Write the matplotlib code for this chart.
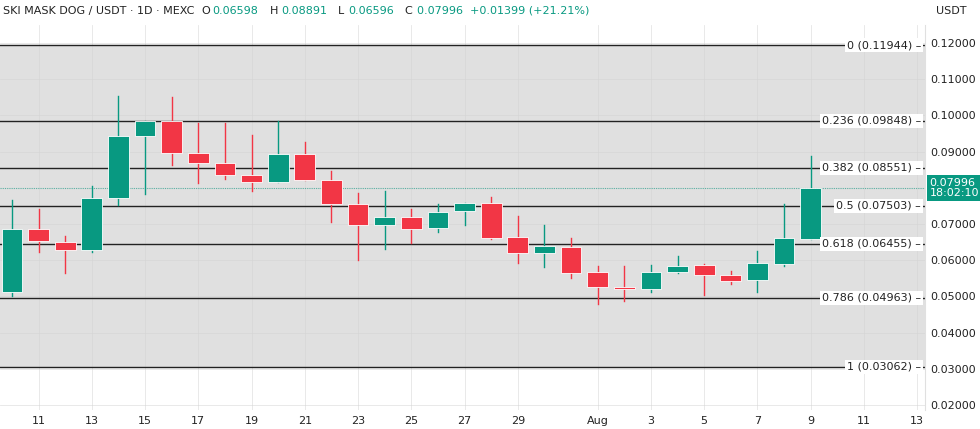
import numpy as np
import matplotlib.pyplot as plt
from matplotlib.patches import Rectangle

# daily candles Jul 10 .. Aug 9 (day index 0 = Jul 10)
opens = [0.0512, 0.0686, 0.0650, 0.0628, 0.0772, 0.0943, 0.0985, 0.0896, 0.0869, 0.0835,
         0.0816, 0.0893, 0.0822, 0.0756, 0.0697, 0.0719, 0.0689, 0.0736, 0.0758, 0.0664,
         0.0620, 0.0637, 0.0567, 0.0526, 0.0520, 0.0567, 0.0587, 0.0559, 0.0545, 0.0590, 0.06598]
highs = [0.0766, 0.0741, 0.0667, 0.0805, 0.1054, 0.0985, 0.1051, 0.0979, 0.0979, 0.0946,
         0.0985, 0.0927, 0.0846, 0.0786, 0.0791, 0.0741, 0.0756, 0.0758, 0.0775, 0.0722,
         0.0697, 0.0661, 0.0584, 0.0584, 0.0587, 0.0612, 0.0590, 0.0570, 0.0625, 0.0756, 0.08891]
lows = [0.0501, 0.0623, 0.0565, 0.0623, 0.0752, 0.0783, 0.0863, 0.0813, 0.0824, 0.0791,
        0.0816, 0.0822, 0.0706, 0.0601, 0.0631, 0.0648, 0.0678, 0.0697, 0.0659, 0.0592,
        0.0581, 0.0551, 0.0479, 0.0487, 0.0512, 0.0565, 0.0504, 0.0534, 0.0512, 0.0584, 0.06596]
closes = [0.0686, 0.0653, 0.0628, 0.0772, 0.0943, 0.0985, 0.0896, 0.0869, 0.0835, 0.0816,
          0.0893, 0.0822, 0.0756, 0.0697, 0.0719, 0.0686, 0.0733, 0.0758, 0.0661, 0.0620,
          0.0639, 0.0565, 0.0526, 0.0520, 0.0567, 0.0584, 0.0559, 0.0543, 0.0592, 0.0661, 0.07996]

fib_levels = ["0", "0.236", "0.382", "0.5", "0.618", "0.786", "1"]
fib_prices = [0.11944, 0.09848, 0.08551, 0.07503, 0.06455, 0.04963, 0.03062]

x_ticks = [1, 3, 5, 7, 9, 11, 13, 15, 17, 19, 22, 24, 26, 28, 30, 32, 34]
x_labels = ["11", "13", "15", "17", "19", "21", "23", "25", "27", "29",
            "Aug", "3", "5", "7", "9", "11", "13"]
y_ticks = [0.02, 0.03, 0.04, 0.05, 0.06, 0.07, 0.09, 0.10, 0.11, 0.12]

GREEN = '#089981'
RED = '#f23645'

fig = plt.figure(figsize=(9.8, 4.29), dpi=100)
ax = fig.add_axes([0, 0.044, 0.944, 0.898])
ax.set_xlim(-0.45, 34.3)
ax.set_ylim(0.01862, 0.1250)

# fib zone
ax.axhspan(fib_prices[-1], fib_prices[0], color='#e0e0e0', zorder=0)
for lev, pr in zip(fib_levels, fib_prices):
    ax.axhline(pr, color='#222222', lw=1.0, zorder=1)
    ax.text(34.15, pr, f"{lev} ({pr:.5f}) \u2013", ha='right', va='center', fontsize=8,
            color='#222222', zorder=4,
            bbox=dict(facecolor='white', edgecolor='none', pad=1.5))

# grid
for t in y_ticks + [0.08]:
    ax.axhline(t, color='#d4d4d4', lw=0.6, alpha=0.6, zorder=0.5)
for t in x_ticks:
    ax.axvline(t, color='#d4d4d4', lw=0.6, alpha=0.6, zorder=0.5)

# candles
w = 0.78
for i, (o, h, l, c) in enumerate(zip(opens, highs, lows, closes)):
    col = GREEN if c >= o else RED
    ax.plot([i, i], [l, h], color=col, lw=1.0, zorder=2)
    ax.add_patch(Rectangle((i - w / 2, min(o, c)), w, max(abs(c - o), 0.0003),
                           facecolor=col, edgecolor='white', lw=0.6, zorder=3))

# last price
last = closes[-1]
ax.axhline(last, color=GREEN, lw=0.8, ls=(0, (1, 1)), alpha=0.6, zorder=1.5)
ax.text(1.005, last, f"{last:.5f}\n18:02:10", transform=ax.get_yaxis_transform(),
        ha='left', va='center', fontsize=8, color='white', linespacing=1.1,
        bbox=dict(facecolor=GREEN, edgecolor='none', pad=2))

ax.yaxis.tick_right()
ax.set_yticks(y_ticks)
ax.set_yticklabels([f"{t:.5f}" for t in y_ticks], fontsize=8, color='#222222')
ax.set_xticks(x_ticks)
ax.set_xticklabels(x_labels, fontsize=8, color='#222222')
ax.tick_params(length=0, pad=4)
for s in ax.spines.values():
    s.set_visible(False)
ax.spines['right'].set_visible(True)
ax.spines['right'].set_color('#e0e0e0')

fig.text(0.003, 0.975, "SKI MASK DOG / USDT \u00b7 1D \u00b7 MEXC", fontsize=8, color='#222222', va='center')
fig.text(0.205, 0.975, "O", fontsize=8, color='#222222', va='center')
fig.text(0.217, 0.975, "0.06598", fontsize=8, color=GREEN, va='center')
fig.text(0.275, 0.975, "H", fontsize=8, color='#222222', va='center')
fig.text(0.287, 0.975, "0.08891", fontsize=8, color=GREEN, va='center')
fig.text(0.345, 0.975, "L", fontsize=8, color='#222222', va='center')
fig.text(0.355, 0.975, "0.06596", fontsize=8, color=GREEN, va='center')
fig.text(0.413, 0.975, "C", fontsize=8, color='#222222', va='center')
fig.text(0.425, 0.975, "0.07996  +0.01399 (+21.21%)", fontsize=8, color=GREEN, va='center')
fig.text(0.955, 0.975, "USDT", fontsize=8, color='#222222', va='center')

fig.savefig("out.png", dpi=100)
